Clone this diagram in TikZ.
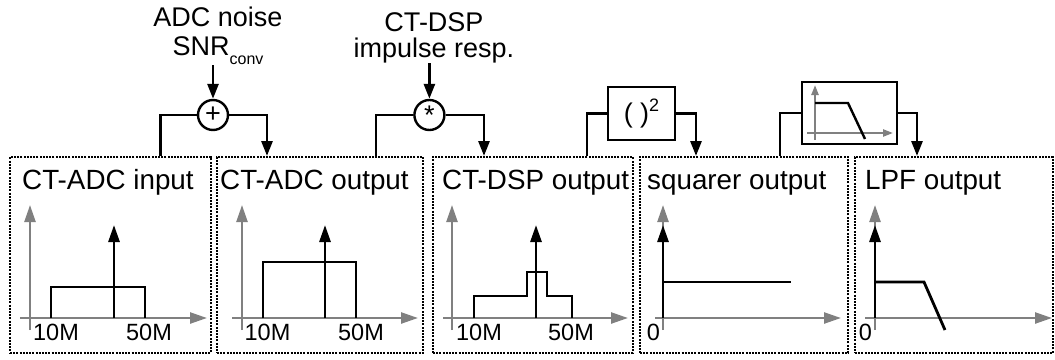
\documentclass[tikz,border=0pt]{standalone}
\usepackage{fontspec}
\setmainfont{Liberation Sans}
\usetikzlibrary{positioning,arrows.meta}

\begin{document}
\begin{tikzpicture}[x=1pt,y=-1pt,
panel/.style={draw=black, line width=2pt, dash pattern=on 2pt off 1.2pt, minimum height=196pt, inner sep=0pt},
title/.style={anchor=base west, inner sep=0pt, font=\fontsize{27.8}{32}\selectfont},
tick/.style={anchor=base, inner sep=0pt, font=\fontsize{23.5}{28}\selectfont},
op/.style={circle, draw=black, line width=2.4pt, minimum size=30pt, inner sep=0pt, font=\fontsize{27}{32}\selectfont},
block/.style={draw=black, line width=2.8pt, inner sep=0pt},
feed/.style={align=center, inner sep=0pt, anchor=south},
wire/.style={line width=2.8pt},
wirearrow/.style={line width=2.8pt, -{Triangle[length=15pt,width=11pt]}},
axis/.style={draw=gray, line width=2.4pt, -{Triangle[length=17pt,width=11pt]}},
tone/.style={line width=2.8pt, -{Triangle[length=17pt,width=11pt]}},
spec/.style={line width=2.8pt},
]
\useasboundingbox (0,0) rectangle (1055,359);

%Panels
\node[panel, minimum width=201pt] (p1) at (110.5,255) {};
\node[panel, minimum width=206pt] (p2) at (320,255) {};
\node[panel, minimum width=200pt] (p3) at (533,255) {};
\node[panel, minimum width=208pt] (p4) at (744,255) {};
\node[panel, minimum width=198pt] (p5) at (954,255) {};

\node[title] (t1) at (22,189) {CT-ADC input};
\node[title] (t2) at (220,189) {CT-ADC output};
\node[title] (t3) at (442,189) {CT-DSP output};
\node[title] (t4) at (647,189) {squarer output};
\node[title] (t5) at (865,189) {LPF output};

%Operators
\node[op] (add) at (213,115) {+};
\node[op] (conv) [right=184pt of add] {*};
\node[block, minimum width=67pt, minimum height=53pt] (sq) at (641.5,113.5)
  {\fontsize{27}{32}\selectfont ( )\raisebox{11pt}{\fontsize{18}{18}\selectfont 2}};
\node[block, minimum width=95pt, minimum height=62pt] (lpf) at (849.5,113) {};

\node[feed, font=\fontsize{27}{29}\selectfont] (noise) at (218,65)
  {ADC noise\\SNR\raisebox{-9pt}{\fontsize{16}{16}\selectfont conv}};
\node[feed, font=\fontsize{27}{26}\selectfont] (resp) at (434,63)
  {CT-DSP\\impulse resp.};

%Side inputs
\draw[wirearrow] (add.north |- noise.south) -- (add.north);
\draw[wirearrow] (conv.north |- resp.south) -- (conv.north);

%Chain
\draw[wire] ([xshift=50pt]p1.north) |- (add.west);
\draw[wirearrow] (add.east) -| ([xshift=-53pt]p2.north);
\draw[wire] ([xshift=56pt]p2.north) |- (conv.west);
\draw[wirearrow] (conv.east) -| ([xshift=-49pt]p3.north);
\draw[wire] ([xshift=54pt]p3.north) |- (sq.west);
\draw[wirearrow] (sq.east) -| ([xshift=-48pt]p4.north);
\draw[wire] ([xshift=36pt]p4.north) |- (lpf.west);
\draw[wirearrow] (lpf.east) -| ([xshift=-37pt]p5.north);

%Filter icon
\draw[draw=gray, line width=2.2pt, -{Triangle[length=10pt,width=7pt]}] (815,140) -- (815,85);
\draw[draw=gray, line width=2.2pt, -{Triangle[length=10pt,width=7pt]}] (807,133) -- (893,133);
\draw[line width=2.4pt] (815,103) -- (848,103) -- (865,139);

%CT-ADC input
\draw[axis] (30,330) -- (30,205);
\draw[axis] (20,318) -- (207,318);
\draw[spec] (51,318) |- (145,287) -- (145,318);
\draw[tone] (114,318) -- (114,225);
\node[tick] (lo1) at (56,340) {10M};
\node[tick] (hi1) at (149,340) {50M};

%CT-ADC output
\draw[axis] (242,330) -- (242,205);
\draw[axis] (232,318) -- (418,318);
\draw[spec] (263,318) |- (356,262) -- (356,318);
\draw[tone] (325,318) -- (325,225);
\node[tick] (lo2) at (267.5,340) {10M};
\node[tick] (hi2) at (361,340) {50M};

%CT-DSP output
\draw[axis] (452,330) -- (452,205);
\draw[axis] (443,318) -- (628,318);
\draw[spec] (474,318) -- (474,296) -- (527,296) -- (527,272) -- (547,272)
  -- (547,296) -- (572,296) -- (572,318);
\draw[tone] (536,318) -- (536,225);
\node[tick] (lo3) at (479,340) {10M};
\node[tick] (hi3) at (571,340) {50M};

%squarer output
\draw[axis] (663,330) -- (663,205);
\draw[axis] (655,318) -- (841,318);
\draw[spec] (663,282) -- (791,282);
\draw[tone] (663,318) -- (663,225);
\node[tick] (z4) at (653.5,340) {0};

%LPF output
\draw[axis] (875,330) -- (875,205);
\draw[axis] (865,318) -- (1052,318);
\draw[spec] (875,282) -- (924,282) -- (945,330);
\draw[tone] (875,318) -- (875,225);
\node[tick] (z5) at (865.5,340) {0};
\end{tikzpicture}
\end{document}
